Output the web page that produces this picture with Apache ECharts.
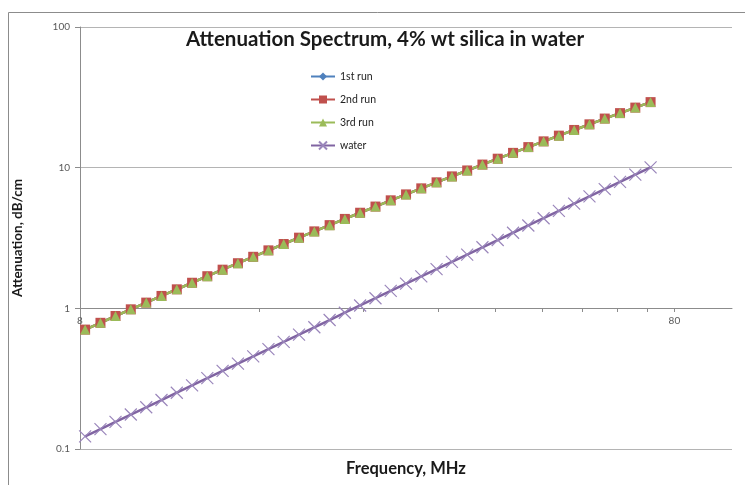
<!DOCTYPE html>
<html>
<head>
<meta charset="utf-8">
<title>Attenuation Spectrum</title>
<script src="https://cdn.jsdelivr.net/npm/echarts@6/dist/echarts.min.js"></script>
<style>
  html, body { margin: 0; padding: 0; background: #fff; }
  #chart { width: 745px; height: 485px; }
</style>
</head>
<body>
<div id="chart"></div>
<script>
// frequency, MHz
const frequency = [8.16, 8.66, 9.18, 9.74, 10.34, 10.97, 11.64, 12.35, 13.10, 13.90,
  14.75, 15.65, 16.60, 17.61, 18.69, 19.83, 21.04, 22.32, 23.68, 25.13,
  26.66, 28.29, 30.01, 31.84, 33.79, 35.85, 38.03, 40.35, 42.82, 45.43,
  48.20, 51.14, 54.26, 57.57, 61.08, 64.81, 68.76, 72.95];

// the three runs sit on top of each other in the picture
const run1 = [0.706, 0.789, 0.882, 0.984, 1.098, 1.225, 1.365, 1.520, 1.692, 1.883,
  2.093, 2.325, 2.583, 2.866, 3.179, 3.524, 3.904, 4.322, 4.782, 5.290,
  5.859, 6.456, 7.127, 7.865, 8.669, 9.553, 10.52, 11.58, 12.74, 14.00,
  15.38, 16.89, 18.54, 20.33, 22.34, 24.42, 26.73, 29.24];
const run2 = run1;
const run3 = run1;

const water = [0.123, 0.1385, 0.156, 0.1758, 0.198, 0.223, 0.2512, 0.283, 0.3187, 0.359,
  0.4044, 0.4555, 0.5131, 0.578, 0.651, 0.7333, 0.826, 0.9304, 1.048, 1.180,
  1.330, 1.498, 1.687, 1.900, 2.141, 2.411, 2.716, 3.059, 3.446, 3.882,
  4.372, 4.925, 5.548, 6.249, 7.039, 7.929, 8.931, 10.06];

const xTicks = [8, 16, 24, 32, 40, 48, 56, 64, 72, 80];
const xLabels = [8, 80];

function pairs(vals) {
  return frequency.map((f, i) => [f, vals[i]]);
}

const font = "Lato, 'Open Sans', sans-serif";

let myChart = echarts.init(document.getElementById("chart"));
myChart.setOption({
  animation: false,
  textStyle: { fontFamily: font },
  title: {
    text: "Attenuation Spectrum, 4% wt silica in water",
    left: 380,
    textAlign: "center",
    top: 24,
    textStyle: { fontSize: 20.5, fontWeight: "bold", color: "#1a1a1a", fontFamily: font }
  },
  graphic: [{
    type: "rect",
    shape: { x: 8.5, y: 12.5, width: 760, height: 500 },
    style: { fill: null, stroke: "#8c8c8c", lineWidth: 1 },
    silent: true
  }],
  legend: {
    orient: "vertical",
    left: 305,
    top: 66,
    itemWidth: 24,
    itemHeight: 10,
    itemGap: 12,
    textStyle: { fontSize: 10.5, color: "#222", fontFamily: font },
    data: ["1st run", "2nd run", "3rd run", "water"]
  },
  grid: { left: 80, right: 13, top: 27, bottom: 36 },
  xAxis: {
    type: "log",
    logBase: 10,
    min: 8,
    max: 100,
    offset: -141,
    name: "Frequency, MHz",
    nameLocation: "middle",
    nameGap: 152,
    nameTextStyle: { fontSize: 16.5, fontWeight: "bold", color: "#1a1a1a", fontFamily: font },
    axisLine: { lineStyle: { color: "#8c8c8c" } },
    axisTick: { show: true, length: 4, customValues: xTicks, lineStyle: { color: "#8c8c8c" } },
    axisLabel: {
      fontSize: 10,
      color: "#595959",
      margin: 8,
      customValues: xLabels,
      formatter: v => String(Math.round(v))
    },
    splitLine: { show: false }
  },
  yAxis: {
    type: "log",
    logBase: 10,
    min: 0.1,
    max: 100,
    name: "Attenuation, dB/cm",
    nameLocation: "middle",
    nameGap: 55,
    nameTextStyle: { fontSize: 13.5, fontWeight: "bold", color: "#1a1a1a", fontFamily: font },
    axisLine: { show: true, lineStyle: { color: "#8c8c8c" } },
    axisTick: { show: true, length: 5, lineStyle: { color: "#8c8c8c" } },
    axisLabel: { fontSize: 10, color: "#595959", margin: 10 },
    splitLine: { show: true, lineStyle: { color: "#b4b4b4" } }
  },
  series: [
    {
      name: "1st run",
      type: "line",
      data: pairs(run1),
      symbol: "diamond",
      symbolSize: 9,
      lineStyle: { width: 2.5, color: "#4F81BD" },
      itemStyle: { color: "#4F81BD", borderWidth: 0 }
    },
    {
      name: "2nd run",
      type: "line",
      data: pairs(run2),
      symbol: "rect",
      symbolSize: 10,
      lineStyle: { width: 2.5, color: "#C0504D" },
      itemStyle: { color: "#C0504D", borderWidth: 0 }
    },
    {
      name: "3rd run",
      type: "line",
      data: pairs(run3),
      symbol: "triangle",
      symbolSize: 10,
      lineStyle: { width: 2.5, color: "#9BBB59" },
      itemStyle: { color: "#9BBB59", borderWidth: 0 }
    },
    {
      name: "water",
      type: "line",
      data: pairs(water),
      symbol: "path://M0,0L10,10M10,0L0,10",
      symbolSize: 12,
      lineStyle: { width: 2.5, color: "#8064A2" },
      itemStyle: { color: "#8064A2", borderColor: "#9a86bb", borderWidth: 1.2 }
    }
  ]
});
</script>
</body>
</html>
